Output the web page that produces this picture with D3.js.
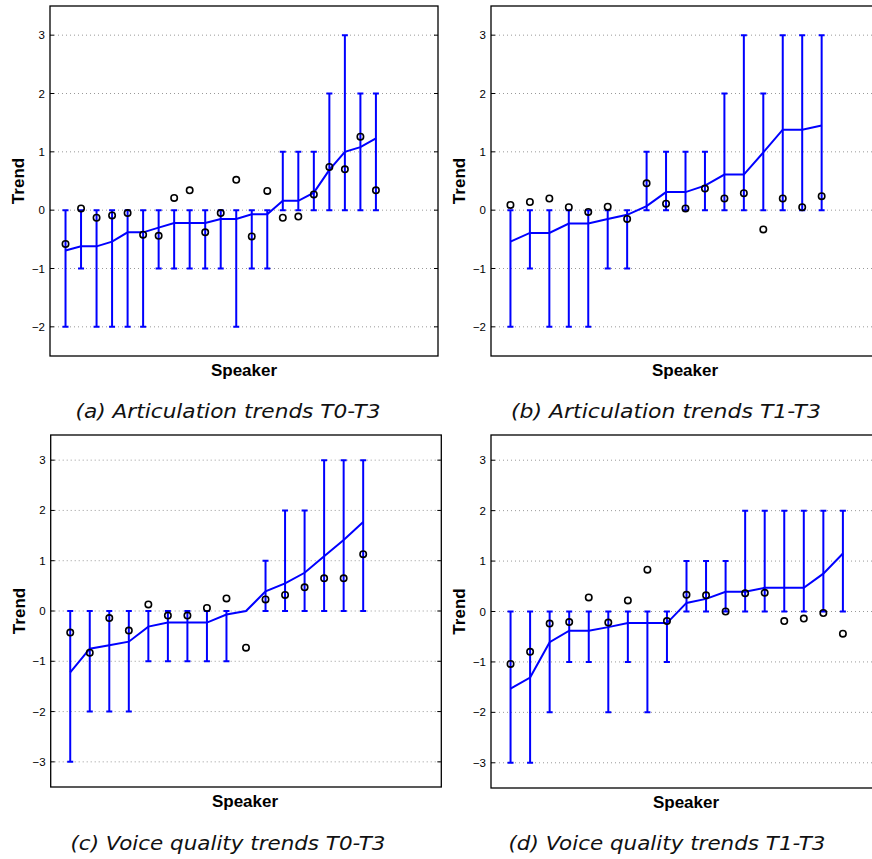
<!DOCTYPE html>
<html lang="en">
<head>
    <meta charset="UTF-8">
    <title>Speaker trends</title>
    <script src="https://d3js.org/d3.v7.min.js"></script>
    <style>
        body { margin: 0; background: #fff; }
        .grid-line { stroke: #999; stroke-width: 1; stroke-dasharray: 1,3; }
        .frame { fill: none; stroke: #000; stroke-width: 1.3; }
        .err { stroke: #0000ff; stroke-width: 2; }
        .trend-line { fill: none; stroke: #0000ff; stroke-width: 2; }
        .dot { fill: none; stroke: #000; stroke-width: 1.6; }
        .tick-label { font-family: "Liberation Sans", Arial, sans-serif; font-size: 11.5px; text-anchor: end; }
        .axis-name { font-family: "Liberation Sans", Arial, sans-serif; font-size: 17px; font-weight: bold; text-anchor: middle; }
        .caption { font-family: "DejaVu Sans", sans-serif; font-style: italic; font-size: 19.5px; text-anchor: middle; fill: #111; }
    </style>
</head>
<body>
    <script>
        // (a) Articulation trends T0-T3
        const aLine = [-0.69, -0.62, -0.62, -0.54, -0.38, -0.38, -0.30, -0.22, -0.22, -0.22, -0.15, -0.15, -0.07, -0.07, 0.16, 0.16, 0.30, 0.69, 1.00, 1.08, 1.23];
        const aDots = [-0.58, 0.03, -0.13, -0.09, -0.05, -0.42, -0.44, 0.21, 0.34, -0.38, -0.05, 0.52, -0.45, 0.33, -0.13, -0.11, 0.27, 0.74, 0.70, 1.26, 0.34];
        const aLow  = [-2, -1, -2, -2, -2, -2, -1, -1, -1, -1, -1, -2, -1, -1, 0, 0, 0, 0, 0, 0, 0];
        const aHigh = [0, 0, 0, 0, 0, 0, 0, 0, 0, 0, 0, 0, 0, 0, 1, 1, 1, 2, 3, 2, 2];

        // (b) Articulation trends T1-T3
        const bLine = [-0.54, -0.39, -0.39, -0.23, -0.23, -0.15, -0.08, 0.07, 0.31, 0.31, 0.42, 0.61, 0.61, 0.99, 1.38, 1.38, 1.45];
        const bDots = [0.09, 0.14, 0.20, 0.05, -0.03, 0.06, -0.15, 0.46, 0.11, 0.03, 0.37, 0.20, 0.29, -0.33, 0.20, 0.05, 0.24];
        const bLow  = [-2, -1, -2, -2, -2, -1, -1, 0, 0, 0, 0, 0, 0, 0, 0, 0, 0];
        const bHigh = [0, 0, 0, 0, 0, 0, 0, 1, 1, 1, 1, 2, 3, 2, 3, 3, 3];

        // (c) Voice quality trends T0-T3
        const cLine = [-1.22, -0.75, -0.68, -0.61, -0.31, -0.23, -0.23, -0.23, -0.07, 0.00, 0.39, 0.55, 0.76, 1.09, 1.41, 1.77];
        const cDots = [-0.43, -0.83, -0.14, -0.39, 0.13, -0.09, -0.09, 0.06, 0.25, -0.73, 0.23, 0.32, 0.47, 0.65, 0.65, 1.13];
        const cLow  = [-3, -2, -2, -2, -1, -1, -1, -1, -1, 0, 0, 0, 0, 0, 0, 0];
        const cHigh = [0, 0, 0, 0, 0, 0, 0, 0, 0, 0, 1, 2, 2, 3, 3, 3];

        // (d) Voice quality trends T1-T3
        const dLine = [-1.53, -1.31, -0.61, -0.38, -0.38, -0.31, -0.23, -0.23, -0.23, 0.17, 0.25, 0.39, 0.39, 0.47, 0.47, 0.47, 0.75, 1.15];
        const dDots = [-1.04, -0.80, -0.24, -0.21, 0.28, -0.22, 0.22, 0.83, -0.19, 0.33, 0.32, 0.00, 0.36, 0.37, -0.19, -0.14, -0.03, -0.44];
        const dLow  = [-3, -3, -2, -1, -1, -2, -1, -2, -1, 0, 0, 0, 0, 0, 0, 0, 0, 0];
        const dHigh = [0, 0, 0, 0, 0, 0, 0, 0, 0, 1, 1, 1, 2, 2, 2, 2, 2, 2];

        const ticksTop = [-2, -1, 0, 1, 2, 3];
        const ticksBottom = [-3, -2, -1, 0, 1, 2, 3];

        const svg = d3.select('body').append('svg')
            .attr('width', 872)
            .attr('height', 859);

        function drawPanel(p) {
            const g = svg.append('g');
            const rows = p.line.map((v, i) => ({ i: i + 1, line: v, dot: p.dots[i], lo: p.low[i], hi: p.high[i] }));

            const x = d3.scaleLinear().domain([0, p.xMax]).range([p.left, p.right]);
            const y = d3.scaleLinear().domain(p.yDomain).range([p.bottom, p.top]);

            const clip = 'clip-' + p.id;
            g.append('clipPath').attr('id', clip)
                .append('rect')
                .attr('x', p.left).attr('y', p.top)
                .attr('width', p.right - p.left).attr('height', p.bottom - p.top);

            // dotted grid
            g.selectAll('.grid-line')
                .data(p.ticks)
                .enter().append('line')
                .attr('class', 'grid-line')
                .attr('x1', p.left).attr('x2', p.right)
                .attr('y1', d => y(d)).attr('y2', d => y(d));

            // small inner ticks on both sides
            g.selectAll('.tk')
                .data(p.ticks)
                .enter().append('path')
                .attr('stroke', '#000')
                .attr('d', d => `M${p.left},${y(d)}h4M${p.right},${y(d)}h-4`);

            g.selectAll('.tick-label')
                .data(p.ticks)
                .enter().append('text')
                .attr('class', 'tick-label')
                .attr('x', p.left - 5)
                .attr('y', d => y(d) + 4)
                .text(d => d < 0 ? '\u2212' + Math.abs(d) : d);

            const plot = g.append('g').attr('clip-path', `url(#${clip})`);

            // error bars with caps (skipped when the range is empty)
            const bars = rows.filter(d => d.hi !== d.lo);
            plot.selectAll('.err')
                .data(bars)
                .enter().append('path')
                .attr('class', 'err')
                .attr('d', d => {
                    const cx = x(d.i);
                    return `M${cx},${y(d.lo)}V${y(d.hi)}` +
                        `M${cx - 3},${y(d.lo)}H${cx + 3}` +
                        `M${cx - 3},${y(d.hi)}H${cx + 3}`;
                });

            const line = d3.line()
                .x(d => x(d.i))
                .y(d => y(d.line));

            plot.append('path')
                .datum(rows)
                .attr('class', 'trend-line')
                .attr('d', line);

            plot.selectAll('.dot')
                .data(rows)
                .enter().append('circle')
                .attr('class', 'dot')
                .attr('cx', d => x(d.i))
                .attr('cy', d => y(d.dot))
                .attr('r', 3.2);

            g.append('rect')
                .attr('class', 'frame')
                .attr('x', p.left).attr('y', p.top)
                .attr('width', p.right - p.left).attr('height', p.bottom - p.top);

            g.append('text')
                .attr('class', 'axis-name')
                .attr('transform', `translate(${p.left - 26},${(p.top + p.bottom) / 2}) rotate(-90)`)
                .text('Trend');

            g.append('text')
                .attr('class', 'axis-name')
                .attr('x', p.speakerX)
                .attr('y', p.bottom + 20)
                .text('Speaker');

            g.append('text')
                .attr('class', 'caption')
                .attr('x', p.captionX)
                .attr('y', p.captionY)
                .attr('textLength', p.captionW)
                .attr('lengthAdjust', 'spacingAndGlyphs')
                .text(p.caption);
        }

        drawPanel({ id: 'a', line: aLine, dots: aDots, low: aLow, high: aHigh, xMax: 25,
            left: 50, right: 438, top: 6, bottom: 356, yDomain: [-2.5, 3.5], ticks: ticksTop,
            speakerX: 244, captionX: 228, captionY: 418, captionW: 305, caption: '(a) Articulation trends T0-T3' });
        drawPanel({ id: 'b', line: bLine, dots: bDots, low: bLow, high: bHigh, xMax: 20,
            left: 491, right: 880, top: 6, bottom: 356, yDomain: [-2.5, 3.5], ticks: ticksTop,
            speakerX: 685, captionX: 666, captionY: 418, captionW: 310, caption: '(b) Articulation trends T1-T3' });
        drawPanel({ id: 'c', line: cLine, dots: cDots, low: cLow, high: cHigh, xMax: 20,
            left: 50.7, right: 441.3, top: 435, bottom: 787, yDomain: [-3.5, 3.5], ticks: ticksBottom,
            speakerX: 245, captionX: 228, captionY: 850, captionW: 315, caption: '(c) Voice quality trends T0-T3' });
        drawPanel({ id: 'd', line: dLine, dots: dDots, low: dLow, high: dHigh, xMax: 20,
            left: 491, right: 882, top: 435, bottom: 788, yDomain: [-3.5, 3.5], ticks: ticksBottom,
            speakerX: 686, captionX: 667, captionY: 850, captionW: 317, caption: '(d) Voice quality trends T1-T3' });
    </script>
</body>
</html>
